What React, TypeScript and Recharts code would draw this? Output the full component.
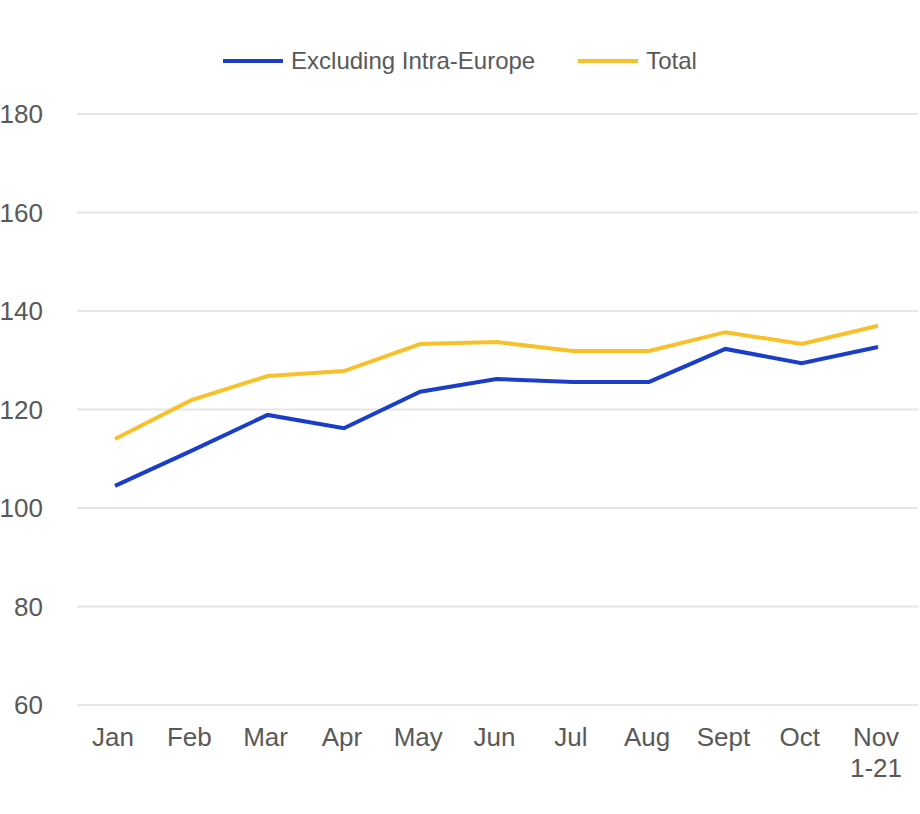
import { LineChart, Line, XAxis, YAxis, CartesianGrid, Legend } from "recharts";

const months = ["Jan", "Feb", "Mar", "Apr", "May", "Jun", "Jul", "Aug", "Sept", "Oct", "Nov\n1-21"];
const excludingIntraEurope = [104.5, 111.6, 118.9, 116.2, 123.6, 126.2, 125.6, 125.6, 132.3, 129.4, 132.7];
const total = [114, 121.9, 126.8, 127.8, 133.3, 133.7, 131.9, 131.9, 135.7, 133.3, 137];
const yTicks = [60, 80, 100, 120, 140, 160, 180];

const BLUE = "#1b3ec9";
const YELLOW = "#f8c12a";
const TEXT = "#595959";
const FONT = "'Liberation Sans', Arial, sans-serif";

const data = months.map((m, i) => ({
  month: m,
  excl: excludingIntraEurope[i],
  total: total[i],
}));

// x tick with optional second line
function MonthTick({ x, y, payload }: any) {
  const lines = String(payload.value).split("\n");
  return (
    <text x={x - 2} y={y} textAnchor="middle" fill={TEXT} fontSize={26} fontFamily={FONT}>
      {lines.map((l, i) => (
        <tspan key={i} x={x - 2} dy={i === 0 ? 33 : 31}>
          {l}
        </tspan>
      ))}
    </text>
  );
}

function LegendContent({ payload }: any) {
  return (
    <div
      style={{
        height: 114,
        width: 920,
        display: "flex",
        justifyContent: "center",
        paddingTop: 47,
        boxSizing: "border-box",
        fontFamily: FONT,
        fontSize: 24,
        color: TEXT,
      }}
    >
      {(payload || []).map((p: any, i: number) => (
        <div
          key={p.value}
          style={{ display: "flex", alignItems: "center", height: 28, marginLeft: i === 0 ? 0 : 43 }}
        >
          <svg width={60} height={8} style={{ marginRight: 8 }}>
            <line x1={0} y1={4} x2={60} y2={4} stroke={p.color} strokeWidth={4} />
          </svg>
          <span>{p.value}</span>
        </div>
      ))}
    </div>
  );
}

export default function App() {
  return (
    <div style={{ position: "absolute", left: 0, top: 0 }}>
      <LineChart width={920} height={814} data={data} margin={{ top: 0, right: 2, bottom: 0, left: 0 }}>
        <CartesianGrid vertical={false} stroke="#e6e6e6" strokeWidth={2} />
        <Legend
          verticalAlign="top"
          align="left"
          content={<LegendContent />}
          wrapperStyle={{ left: 0, top: 0, width: 920 }}
        />
        <XAxis
          dataKey="month"
          axisLine={false}
          tickLine={false}
          interval={0}
          height={109}
          padding={{ left: 38, right: 40 }}
          tick={<MonthTick />}
        />
        <YAxis
          domain={[60, 180]}
          ticks={yTicks}
          axisLine={false}
          tickLine={false}
          tickSize={0}
          tickMargin={34}
          width={77}
          tick={{ fill: TEXT, fontSize: 26, fontFamily: FONT }}
        />
        <Line
          dataKey="excl"
          name="Excluding Intra-Europe"
          stroke={BLUE}
          strokeWidth={4}
          dot={false}
          isAnimationActive={false}
        />
        <Line
          dataKey="total"
          name="Total"
          stroke={YELLOW}
          strokeWidth={4}
          dot={false}
          isAnimationActive={false}
        />
      </LineChart>
    </div>
  );
}
